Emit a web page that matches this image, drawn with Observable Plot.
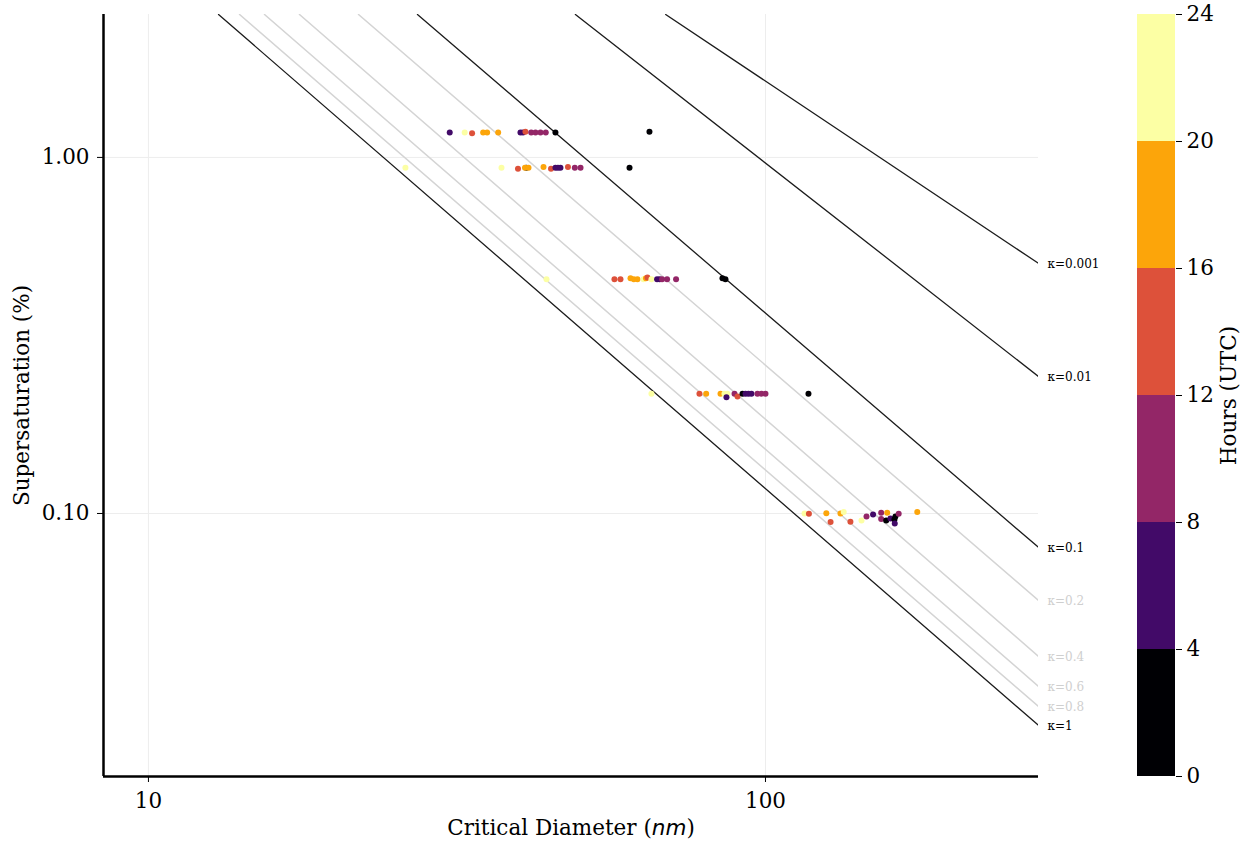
<!DOCTYPE html>
<html><head><meta charset="utf-8">
<script src="https://cdn.jsdelivr.net/npm/d3@7"></script>
<script src="https://cdn.jsdelivr.net/npm/@observablehq/plot@0.6"></script>
<style>
body{margin:0;background:#fff;}
#wrap{display:flex;width:1247px;height:841px;}
</style></head><body><div id="wrap"></div>
<script>
// ---- data ----
const critDiam = [
  // S ~ 1.17 %
  30.78, 32.55, 33.46, 34.87, 35.39, 36.88, 40.08, 40.46, 40.83, 41.72, 42.39, 43.19, 44.05, 45.67, 64.86,
  // S ~ 0.94 %
  26.09, 37.34, 39.71, 40.95, 40.76, 41.30, 43.68, 44.92, 45.67, 46.10, 46.53, 47.85, 49.09, 50.15, 60.21,
  // S ~ 0.46 %
  44.17, 56.92, 58.21, 60.43, 61.18, 62.02, 63.43, 64.02, 64.38, 65.34, 66.73, 67.38, 67.99, 69.27, 71.63, 85.17, 86.13,
  // S ~ 0.22 %
  65.34, 78.16, 80.15, 84.55, 85.80, 86.77, 86.45, 89.09, 90.08, 91.78, 92.82, 93.85, 94.90, 97.05, 98.51, 100.0, 117.4,
  // S ~ 0.10 %
  115.7, 117.6, 125.5, 127.5, 132.3, 133.9, 137.3, 143.1, 145.8, 149.4, 154.0, 154.0, 157.5, 156.9, 159.4, 161.8, 162.4, 162.0, 164.4, 176.2
];
const superSat = [
  1.175, 1.175, 1.17, 1.175, 1.175, 1.175, 1.175, 1.175, 1.18, 1.175, 1.175, 1.175, 1.175, 1.175, 1.18,
  0.935, 0.935, 0.93, 0.935, 0.935, 0.935, 0.94, 0.93, 0.935, 0.935, 0.935, 0.94, 0.935, 0.935, 0.935,
  0.455, 0.455, 0.455, 0.458, 0.455, 0.455, 0.455, 0.458, 0.46, 0.455, 0.455, 0.455, 0.455, 0.455, 0.455, 0.458, 0.455,
  0.217, 0.217, 0.217, 0.217, 0.217, 0.217, 0.212, 0.217, 0.213, 0.217, 0.217, 0.217, 0.217, 0.217, 0.217, 0.217, 0.217,
  0.100, 0.0998, 0.1002, 0.0946, 0.100, 0.101, 0.0948, 0.0956, 0.0981, 0.0994, 0.1005, 0.0965, 0.1005, 0.0956, 0.0968, 0.0962, 0.0981, 0.0937, 0.0998, 0.1009
];
const hourUTC = [
  6, 22, 14, 18, 18, 18, 6, 6, 14, 10, 10, 10, 10, 2, 2,
  22, 22, 14, 2, 18, 18, 18, 14, 6, 6, 6, 14, 10, 10, 2,
  22, 14, 14, 18, 18, 18, 22, 18, 14, 22, 6, 6, 10, 10, 10, 2, 2,
  22, 14, 18, 18, 22, 22, 6, 10, 14, 2, 6, 6, 6, 10, 10, 10, 2,
  22, 14, 18, 14, 18, 22, 14, 22, 10, 6, 10, 10, 18, 2, 6, 2, 2, 6, 10, 18
];

// kappa-Koehler reference lines: diameter / supersaturation pairs
const kappaValues = ["1", "0.8", "0.6", "0.4", "0.2", "0.1", "0.01", "0.001"];
const kappaDiam = [
  [12.99, 277], [14.05, 277], [15.42, 277], [17.57, 277], [21.90, 277], [27.29, 277], [49.2, 277], [68.9, 277]
];
const kappaSat = [
  [2.52, 0.0254], [2.52, 0.0287], [2.52, 0.0327], [2.52, 0.0397], [2.52, 0.0570], [2.52, 0.0803], [2.52, 0.2425], [2.52, 0.504]
];

const xTicks = [10, 100];
const yTicks = [0.1, 1];
const hourEdges = [0, 4, 8, 12, 16, 20, 24];
const binColors = ["#000004", "#420a68", "#932667", "#dd513a", "#fca50a", "#fcffa4"];

const xDomain = [8.456, 277];
const yDomain = [0.01825, 2.52];

// ---- build tables ----
const points = critDiam.map((d, i) => ({d, s: superSat[i], h: hourUTC[i]}));
const lightKappa = new Set(["0.8", "0.6", "0.4", "0.2"]);
const kappaRows = [];
kappaValues.forEach((k, i) => kappaDiam[i].forEach((d, j) => kappaRows.push({k, d, s: kappaSat[i][j]})));
const kappaEnds = kappaValues.map((k, i) => ({k, d: kappaDiam[i][kappaDiam[i].length - 1], s: kappaSat[i][kappaSat[i].length - 1]}));
const isLight = r => lightKappa.has(r.k);

const font = '"DejaVu Serif", serif';
const fs = 21.5;
const colorScale = {type: "threshold", domain: hourEdges.slice(1, -1), range: binColors};

const main = Plot.plot({
  width: 1110, height: 841,
  marginLeft: 103, marginRight: 72, marginTop: 14, marginBottom: 65,
  style: {fontFamily: font, fontSize: fs + "px", background: "white", color: "black", overflow: "visible"},
  x: {type: "log", domain: xDomain},
  y: {type: "log", domain: yDomain},
  color: colorScale,
  marks: [
    Plot.gridX(xTicks, {stroke: "#ededed", strokeOpacity: 1, strokeWidth: 1}),
    Plot.gridY(yTicks, {stroke: "#ededed", strokeOpacity: 1, strokeWidth: 1}),
    Plot.line(kappaRows.filter(isLight), {x: "d", y: "s", z: "k", stroke: "#d4d4d4", strokeWidth: 1.5, clip: true}),
    Plot.line(kappaRows.filter(r => !isLight(r)), {x: "d", y: "s", z: "k", stroke: "#1c1c1c", strokeWidth: 1.3, clip: true}),
    Plot.text(kappaEnds.filter(isLight), {x: "d", y: "s", text: r => "κ=" + r.k, dx: 9, dy: 1, textAnchor: "start", fontSize: 12, fill: "#cfcfcf"}),
    Plot.text(kappaEnds.filter(r => !isLight(r)), {x: "d", y: "s", text: r => "κ=" + r.k, dx: 9, dy: 1, textAnchor: "start", fontSize: 12, fill: "black"}),
    Plot.dot(points, {x: "d", y: "s", fill: "h", r: 3, stroke: "none"}),
    Plot.ruleX([xDomain[0]], {stroke: "black", strokeWidth: 2.5}),
    Plot.ruleY([yDomain[0]], {stroke: "black", strokeWidth: 2.5}),
    Plot.axisX({ticks: xTicks, tickFormat: d => String(d), tickSize: 6, tickPadding: 10, label: null, fontSize: fs}),
    Plot.axisY({ticks: yTicks, tickFormat: d3.format(".2f"), tickSize: 6, tickPadding: 8, label: null, fontSize: fs}),
    Plot.text(["Critical Diameter (nm)"], {frameAnchor: "bottom", dy: 58, fontSize: fs, textAnchor: "middle", text: d => d}),
    Plot.text(["Supersaturation (%)"], {frameAnchor: "left", dx: -81, rotate: -90, fontSize: fs, textAnchor: "middle", text: d => d})
  ]
});

// italic "nm" in the x label
d3.select(main).selectAll("text").each(function () {
  if (this.textContent === "Critical Diameter (nm)") {
    const t = d3.select(this);
    t.text(null);
    t.append("tspan").text("Critical Diameter (");
    t.append("tspan").attr("font-style", "italic").attr("font-family", '"DejaVu Sans", sans-serif').text("nm");
    t.append("tspan").text(")");
  }
});

const bins = hourEdges.slice(0, -1).map((lo, i) => ({lo, hi: hourEdges[i + 1], mid: (lo + hourEdges[i + 1]) / 2}));

const bar = Plot.plot({
  width: 137, height: 841,
  marginLeft: 27, marginRight: 72, marginTop: 14, marginBottom: 65,
  style: {fontFamily: font, fontSize: fs + "px", background: "white", color: "black", overflow: "visible"},
  x: {domain: [0, 1], axis: null},
  y: {domain: [0, 24], axis: null},
  color: colorScale,
  marks: [
    Plot.rect(bins, {x1: () => 0, x2: () => 1, y1: "lo", y2: "hi", fill: "mid"}),
    Plot.axisY({anchor: "right", ticks: hourEdges, tickSize: 6, tickPadding: 5, label: null, fontSize: fs}),
    Plot.text(["Hours (UTC)"], {frameAnchor: "right", dx: 54, rotate: -90, fontSize: fs, textAnchor: "middle", text: d => d})
  ]
});

document.getElementById("wrap").append(main, bar);
</script>
</body></html>
